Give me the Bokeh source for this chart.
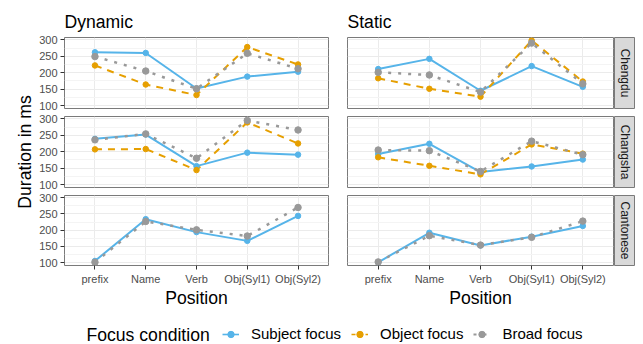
import math
from bokeh.plotting import figure
from bokeh.models import (Range1d, FixedTicker, LinearAxis, Grid, Label,
                          Legend, LegendItem)
from bokeh.layouts import row, column
from bokeh.embed import file_html
from bokeh.resources import INLINE

# ---------------- data ----------------
positions = ["prefix", "Name", "Verb", "Obj(Syl1)", "Obj(Syl2)"]
conditions = ["Dynamic", "Static"]
dialects = ["Chengdu", "Changsha", "Cantonese"]
focus_labels = ["Subject focus", "Object focus", "Broad focus"]
y_ticks = [100, 150, 200, 250, 300]
y_minor = [125, 175, 225, 275]

chengdu_dynamic_subject = [262, 260, 152, 188, 203]
chengdu_dynamic_object = [222, 164, 132, 278, 225]
chengdu_dynamic_broad = [249, 205, 151, 259, 212]

chengdu_static_subject = [211, 242, 145, 220, 157]
chengdu_static_object = [183, 151, 127, 298, 173]
chengdu_static_broad = [201, 193, 141, 290, 166]

changsha_dynamic_subject = [239, 252, 156, 197, 191]
changsha_dynamic_object = [207, 208, 144, 289, 225]
changsha_dynamic_broad = [236, 254, 180, 295, 266]

changsha_static_subject = [193, 224, 138, 155, 176]
changsha_static_object = [183, 157, 131, 222, 194]
changsha_static_broad = [205, 203, 140, 232, 191]

cantonese_dynamic_subject = [105, 234, 194, 167, 244]
cantonese_dynamic_broad = [101, 227, 201, 182, 270]

cantonese_static_subject = [101, 192, 153, 180, 213]
cantonese_static_broad = [102, 183, 154, 178, 228]

data = {
    ("Dynamic", "Chengdu"): [chengdu_dynamic_subject, chengdu_dynamic_object, chengdu_dynamic_broad],
    ("Static", "Chengdu"): [chengdu_static_subject, chengdu_static_object, chengdu_static_broad],
    ("Dynamic", "Changsha"): [changsha_dynamic_subject, changsha_dynamic_object, changsha_dynamic_broad],
    ("Static", "Changsha"): [changsha_static_subject, changsha_static_object, changsha_static_broad],
    ("Dynamic", "Cantonese"): [cantonese_dynamic_subject, None, cantonese_dynamic_broad],
    ("Static", "Cantonese"): [cantonese_static_subject, None, cantonese_static_broad],
}

# ---------------- style ----------------
FONT = "Liberation Sans"
COLORS = ["#56B4E9", "#E69F00", "#999999"]
DASHES = ["solid", "7 6", "3 7"]
LWIDTH = [2, 2, 2.5]
PSIZE = [5.5, 5.5, 6.5]
BORDER = "#7A7A7A"
FW, FH = 266, 71
x_idx = list(range(len(positions)))


def new_fig(**kw):
    p = figure(toolbar_location=None, output_backend="svg",
               x_axis_location=None, y_axis_location=None, **kw)
    # drop any default grids
    p.center = [c for c in p.center if not isinstance(c, Grid)]
    p.background_fill_color = "white"
    p.border_fill_color = "white"
    return p


def style_fig(p):
    p.outline_line_color = BORDER
    p.outline_line_width = 1


def make_panel(cond, dial, top, bottom, left, right, show_y, show_x,
               title=None):
    kw = dict(title=title) if title else {}
    p = new_fig(width=left + FW + right, height=top + FH + bottom,
                x_range=Range1d(-0.6, len(positions) - 0.4),
                y_range=Range1d(91, 307),
                min_border_left=left, min_border_right=right,
                min_border_top=top, min_border_bottom=bottom, **kw)
    style_fig(p)
    if title:
        p.title.text_font = FONT
        p.title.text_font_size = "17.6px"
        p.title.text_font_style = "normal"
        p.title.text_color = "black"
        p.title.align = "left"
        p.title.offset = 0
        p.title.standoff = 11
    p.add_layout(Grid(dimension=0, ticker=FixedTicker(ticks=x_idx),
                      grid_line_color="#EBEBEB", grid_line_width=1))
    p.add_layout(Grid(dimension=1,
                      ticker=FixedTicker(ticks=y_ticks, minor_ticks=y_minor),
                      grid_line_color="#EBEBEB", grid_line_width=1,
                      minor_grid_line_color="#F4F4F4", minor_grid_line_width=1))
    if show_y:
        ya = LinearAxis(ticker=FixedTicker(ticks=y_ticks),
                        axis_line_color=None, major_tick_out=4, major_tick_in=0,
                        minor_tick_out=0, minor_tick_in=0,
                        major_tick_line_color="#333333",
                        major_label_text_font=FONT,
                        major_label_text_font_size="11px",
                        major_label_text_color="#4D4D4D",
                        major_label_standoff=3)
        p.add_layout(ya, "left")
    if show_x:
        xa = LinearAxis(ticker=FixedTicker(ticks=x_idx),
                        major_label_overrides={i: s for i, s in enumerate(positions)},
                        axis_line_color=None, major_tick_out=4, major_tick_in=0,
                        minor_tick_out=0, minor_tick_in=0,
                        major_tick_line_color="#333333",
                        major_label_text_font=FONT,
                        major_label_text_font_size="11px",
                        major_label_text_color="#4D4D4D",
                        major_label_standoff=3,
                        axis_label="Position",
                        axis_label_text_font=FONT,
                        axis_label_text_font_size="17.6px",
                        axis_label_text_font_style="normal",
                        axis_label_text_color="black",
                        axis_label_standoff=0)
        p.add_layout(xa, "below")
    series = data[(cond, dial)]
    for k, vals in enumerate(series):
        if vals is None:
            continue
        p.line(x_idx, vals, line_color=COLORS[k], line_width=LWIDTH[k],
               line_dash=DASHES[k])
    for k, vals in enumerate(series):
        if vals is None:
            continue
        p.scatter(x_idx, vals, size=PSIZE[k], fill_color=COLORS[k],
                  line_color=COLORS[k])
    return p


def make_strip(text, top, bottom):
    s = new_fig(width=21, height=top + FH + bottom,
                x_range=Range1d(0, 1), y_range=Range1d(0, 1),
                min_border_left=0, min_border_right=1,
                min_border_top=top, min_border_bottom=bottom)
    style_fig(s)
    s.background_fill_color = "#D9D9D9"
    s.add_layout(Label(x=0.5, y=0.5, text=text, angle=-math.pi / 2,
                       text_align="center", text_baseline="middle",
                       text_font=FONT, text_font_size="12px",
                       text_color="#1A1A1A"))
    return s


TOPS = [37, 4, 4]
BOTS = [4, 4, 44]
YL_W = 36
COL_H = sum(TOPS) + sum(BOTS) + 3 * FH

left_col = []
right_col = []
for i, d in enumerate(dialects):
    lp = make_panel("Dynamic", d, TOPS[i], BOTS[i], 62 - YL_W, 9,
                    show_y=True, show_x=(i == 2),
                    title="Dynamic" if i == 0 else None)
    rp = make_panel("Static", d, TOPS[i], BOTS[i], 10, 1,
                    show_y=False, show_x=(i == 2),
                    title="Static" if i == 0 else None)
    st = make_strip(d, TOPS[i], BOTS[i])
    left_col.append(lp)
    right_col.append(row(rp, st, spacing=0))

# y-axis title column
yl = new_fig(width=YL_W, height=COL_H, x_range=Range1d(0, YL_W),
             y_range=Range1d(0, COL_H),
             min_border_left=0, min_border_right=0, min_border_top=0,
             min_border_bottom=0)
yl.outline_line_color = None
panels_mid = TOPS[0] + (3 * FH + TOPS[1] + TOPS[2] + BOTS[0] + BOTS[1]) / 2
yl.add_layout(Label(x=24, y=COL_H - panels_mid, text="Duration in ms",
                    angle=math.pi / 2, text_align="center",
                    text_baseline="middle", text_font=FONT,
                    text_font_size="17.6px", text_color="black"))

grid = row(yl, column(*left_col, spacing=0), column(*right_col, spacing=0),
           spacing=0)

# ---------------- legend ----------------
LW, LH = 635, 33
lf = new_fig(width=LW, height=LH, x_range=Range1d(0, LW), y_range=Range1d(0, LH),
             min_border_left=0, min_border_right=0,
             min_border_top=0, min_border_bottom=0)
lf.outline_line_color = None
nan = float("nan")
items = []
for k, lab in enumerate(focus_labels):
    rl = lf.line(x=[nan], y=[nan], line_color=COLORS[k],
                 line_width=LWIDTH[k] * 0.8,
                 line_dash=DASHES[k] if k != 1 else "4 3")
    rs = lf.scatter(x=[nan], y=[nan], size=PSIZE[k] - 1, fill_color=COLORS[k],
                    line_color=COLORS[k])
    items.append(LegendItem(label=lab, renderers=[rl, rs]))
leg = Legend(items=items, orientation="horizontal", location=(222, 1),
             glyph_width=17, glyph_height=16, label_height=16,
             label_standoff=12, spacing=10, padding=0, margin=0,
             border_line_color=None, background_fill_alpha=0,
             label_text_font=FONT, label_text_font_size="15px",
             label_text_color="black")
lf.add_layout(leg)
lf.add_layout(Label(x=86, y=9, text="Focus condition", text_align="left",
                    text_baseline="middle", text_font=FONT,
                    text_font_size="17.6px", text_color="black"))

layout = column(grid, lf, spacing=0)

open("out.html", "w").write(file_html(layout, INLINE))
